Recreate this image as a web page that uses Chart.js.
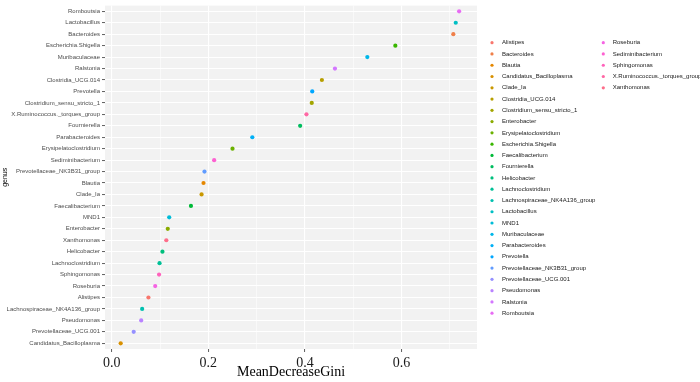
<!DOCTYPE html>
<html>
<head>
<meta charset="utf-8">
<script src="https://cdn.jsdelivr.net/npm/chart.js@4/dist/chart.umd.min.js"></script>
<style>
html,body{margin:0;padding:0;background:#fff;}
#wrap{width:700px;height:382px;position:relative;}
</style>
</head>
<body>
<div id="wrap"><canvas id="c" width="700" height="382"></canvas></div>
<script>
// genus order as shown, top to bottom
const genera = ['Romboutsia','Lactobacillus','Bacteroides','Escherichia.Shigella','Muribaculaceae','Ralstonia','Clostridia_UCG.014','Prevotella','Clostridium_sensu_stricto_1','X.Ruminococcus._torques_group','Fournierella','Parabacteroides','Erysipelatoclostridium','Sediminibacterium','Prevotellaceae_NK3B31_group','Blautia','Clade_Ia','Faecalibacterium','MND1','Enterobacter','Xanthomonas','Helicobacter','Lachnoclostridium','Sphingomonas','Roseburia','Alistipes','Lachnospiraceae_NK4A136_group','Pseudomonas','Prevotellaceae_UCG.001','Candidatus_Bacilloplasma'];
// MeanDecreaseGini values, same order
const giniValues = [0.719,0.712,0.707,0.587,0.529,0.462,0.435,0.415,0.414,0.403,0.390,0.291,0.250,0.212,0.192,0.190,0.186,0.164,0.119,0.116,0.113,0.105,0.099,0.098,0.090,0.076,0.063,0.061,0.0455,0.0186];
// legend (factor level) order
const legendOrder = ['Alistipes','Bacteroides','Blautia','Candidatus_Bacilloplasma','Clade_Ia','Clostridia_UCG.014','Clostridium_sensu_stricto_1','Enterobacter','Erysipelatoclostridium','Escherichia.Shigella','Faecalibacterium','Fournierella','Helicobacter','Lachnoclostridium','Lachnospiraceae_NK4A136_group','Lactobacillus','MND1','Muribaculaceae','Parabacteroides','Prevotella','Prevotellaceae_NK3B31_group','Prevotellaceae_UCG.001','Pseudomonas','Ralstonia','Romboutsia','Roseburia','Sediminibacterium','Sphingomonas','X.Ruminococcus._torques_group','Xanthomonas'];
// x tick values and labels
const xTickValues = [0,0.1,0.2,0.3,0.4,0.5,0.6,0.7];
const xTickLabels = ['0.0','','0.2','','0.4','','0.6',''];

function hcl(h, c, l) {
  const hr = h * Math.PI / 180;
  const U = c * Math.cos(hr), V = c * Math.sin(hr);
  const Xn = 95.047, Yn = 100, Zn = 108.883;
  const Y = Yn * (l > 8 ? Math.pow((l + 16) / 116, 3) : l / 903.3);
  const den = Xn + 15 * Yn + 3 * Zn;
  const un = 4 * Xn / den, vn = 9 * Yn / den;
  const u = U / (13 * l) + un, v = V / (13 * l) + vn;
  const X = 9 * Y * u / (4 * v);
  const Z = -X / 3 - 5 * Y + 3 * Y / v;
  const x = X / 100, y = Y / 100, z = Z / 100;
  const lin = [
    3.240479 * x - 1.537150 * y - 0.498535 * z,
    -0.969256 * x + 1.875992 * y + 0.041556 * z,
    0.055648 * x - 0.204043 * y + 1.057311 * z
  ];
  const out = lin.map(t => {
    let s = t <= 0.0031308 ? 12.92 * t : 1.055 * Math.pow(t, 1 / 2.4) - 0.055;
    s = Math.max(0, Math.min(1, s));
    return Math.round(s * 255);
  });
  return 'rgb(' + out.join(',') + ')';
}
const colorMap = {};
legendOrder.forEach((g, i) => { colorMap[g] = hcl(15 + i * 360 / legendOrder.length, 100, 65); });

const panelBg = {
  id: 'panelBg',
  beforeDraw(chart) {
    const a = chart.chartArea, ctx = chart.ctx;
    ctx.save();
    ctx.fillStyle = '#F2F2F2';
    ctx.fillRect(a.left, a.top, a.right - a.left, a.bottom - a.top);
    ctx.restore();
  }
};

const customLegend = {
  id: 'customLegend',
  afterDraw(chart) {
    const ctx = chart.ctx;
    ctx.save();
    ctx.font = '6px "Liberation Sans", Arial, sans-serif';
    ctx.textBaseline = 'middle';
    ctx.textAlign = 'left';
    const perCol = 25;
    legendOrder.forEach((g, i) => {
      const col = Math.floor(i / perCol), row = i % perCol;
      const dx = col === 0 ? 492 : 603.3;
      const tx = col === 0 ? 502 : 612.7;
      const y = 42.7 + row * 11.27;
      ctx.fillStyle = colorMap[g];
      ctx.beginPath();
      ctx.arc(dx, y, 1.6, 0, Math.PI * 2);
      ctx.fill();
      ctx.fillStyle = '#1A1A1A';
      ctx.fillText(g, tx, y);
    });
    ctx.restore();
  }
};

new Chart(document.getElementById('c'), {
  type: 'scatter',
  data: {
    datasets: [{
      label: 'MeanDecreaseGini',
      data: genera.map((g, i) => ({ x: giniValues[i], y: g })),
      pointBackgroundColor: genera.map(g => colorMap[g]),
      pointBorderWidth: 0,
      pointRadius: 2.1,
      pointHoverRadius: 2.1
    }]
  },
  plugins: [panelBg, customLegend],
  options: {
    responsive: false,
    animation: false,
    events: [],
    layout: { padding: { top: 1.5, right: 223, bottom: 0, left: 0 } },
    plugins: { legend: { display: false }, tooltip: { enabled: false } },
    scales: {
      x: {
        type: 'linear',
        min: -0.0139,
        max: 0.756,
        afterBuildTicks(scale) { scale.ticks = xTickValues.map(v => ({ value: v })); },
        afterFit(scale) { scale.height = 33; },
        border: { display: false },
        grid: {
          color: '#FFFFFF',
          lineWidth: ctx => (ctx.tick && Math.round(ctx.tick.value * 10) % 2 === 0) ? 1.1 : 0.55,
          tickColor: ctx => (ctx.tick && Math.round(ctx.tick.value * 10) % 2 === 0) ? '#333333' : 'rgba(0,0,0,0)',
          tickLength: 3,
          tickWidth: 0.8
        },
        ticks: {
          autoSkip: false,
          maxRotation: 0,
          padding: 3,
          color: '#1A1A1A',
          font: { family: '"Liberation Serif", "Times New Roman", serif', size: 14 },
          callback: (v, i) => xTickLabels[i]
        },
        title: {
          display: true,
          text: 'MeanDecreaseGini',
          color: '#000000',
          font: { family: '"Liberation Serif", "Times New Roman", serif', size: 14, lineHeight: 1 },
          padding: { top: 0, bottom: 3 }
        }
      },
      y: {
        type: 'category',
        labels: genera,
        offset: true,
        afterFit(scale) { scale.width = 105; },
        border: { display: false },
        grid: {
          offset: false,
          color: '#FFFFFF',
          lineWidth: 1.1,
          tickColor: '#333333',
          tickLength: 3,
          tickWidth: 0.8
        },
        ticks: {
          autoSkip: false,
          padding: 2,
          color: '#4D4D4D',
          font: { family: '"Liberation Sans", Arial, sans-serif', size: 6 }
        },
        title: {
          display: true,
          text: 'genus',
          color: '#000000',
          font: { family: '"Liberation Sans", Arial, sans-serif', size: 7, lineHeight: 1 },
          padding: { top: 1.5, bottom: 0 }
        }
      }
    }
  }
});
</script>
</body>
</html>
